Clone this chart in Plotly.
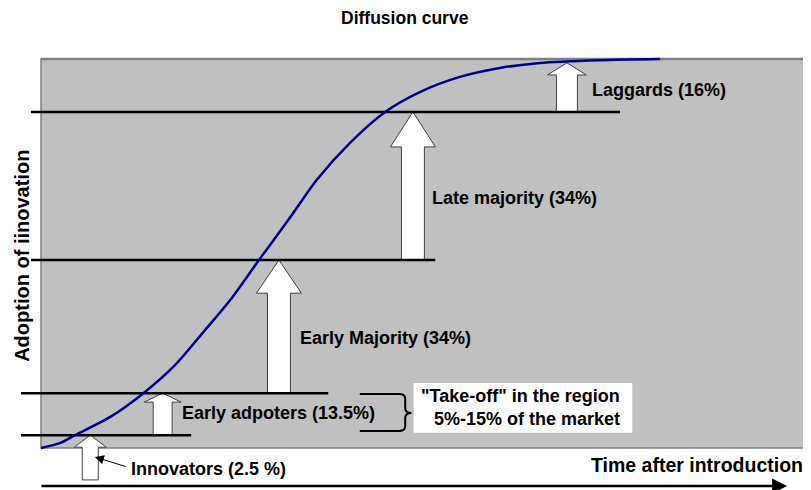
import plotly.graph_objects as go

# ---------------- data ----------------
segment_labels = ["Innovators (2.5 %)", "Early adpoters (13.5%)", "Early Majority (34%)",
                  "Late majority (34%)", "Laggards (16%)"]
segment_shares = [2.5, 13.5, 34, 34, 16]
# cumulative adoption thresholds as drawn on the schematic (adoption index 0-100)
level_values = [3.3, 14.1, 48.3, 86.4]
curve_top = 100.0

# S-shaped diffusion curve (time index 0-100, adoption index 0-100)
curve_time = [0, 2.5, 4.4, 9.0, 13.3, 17.4, 21.3, 24.6, 28.3, 32.3, 35.8, 40.1,
              44.7, 49.2, 54.4, 59.6, 64.8, 72.6, 80.4]
curve_adoption = [0, 1.3, 3.3, 8.0, 14.1, 21.3, 30.3, 38.1, 48.3, 59.1, 68.9, 78.4,
                  86.4, 91.5, 95.4, 97.7, 99.0, 99.7, 100.0]

# ---------------- styling / layout ----------------
FONT = "Arial, 'Liberation Sans', sans-serif"
# axis ranges chosen so the page (with its 8px body margin) lines up with the reference
X_RANGE = [-4.286, 101.04]
Y_RANGE = [-12.85, 113.11]

# horizontal extents of each threshold line (time index)
line_extents = [(-2.6, 19.5), (-2.6, 37.3), (-1.3, 51.2), (-1.3, 75.2)]

# block arrows: centre, shaft half-width, head half-width, head height
arrow_centres = [6.4, 15.8, 30.9, 48.3, 68.3]
arrow_shaft_hw = [1.04, 1.23, 1.49, 1.49, 1.36]
arrow_head_hw = [2.08, 2.40, 2.92, 2.92, 2.53]
arrow_head_h = [3.1, 2.3, 8.5, 9.0, 3.1]
arrow_bottoms = [-8.2] + level_values
arrow_tips = level_values + [curve_top - 1.0]

label_pos = [(11.4, -5.4), (18.05, 9.0), (33.4, 28.3), (50.5, 64.3), (71.3, 92.0)]

fig = go.Figure()

# grey plot area
fig.add_shape(type="rect", x0=0, x1=102, y0=0, y1=100, xref="x", yref="y",
              fillcolor="#C0C0C0", line=dict(color="#808080", width=1.5), layer="below")
fig.add_shape(type="line", x0=0, x1=102, y0=100, y1=100, xref="x", yref="y",
              line=dict(color="#808080", width=2.5), layer="below")

# block arrows
for cx, shw, hhw, hh, b, t in zip(arrow_centres, arrow_shaft_hw, arrow_head_hw,
                                   arrow_head_h, arrow_bottoms, arrow_tips):
    xs = [cx - shw, cx - shw, cx - hhw, cx, cx + hhw, cx + shw, cx + shw, cx - shw]
    ys = [b, t - hh, t - hh, t, t - hh, t - hh, b, b]
    fig.add_trace(go.Scatter(x=xs, y=ys, mode="lines", fill="toself",
                             fillcolor="white", line=dict(color="#404040", width=1),
                             hoverinfo="skip", showlegend=False))

# threshold lines
for (x0, x1), lv in zip(line_extents, level_values):
    fig.add_trace(go.Scatter(x=[x0, x1], y=[lv, lv], mode="lines",
                             line=dict(color="black", width=2.5),
                             hoverinfo="skip", showlegend=False))

# diffusion curve
fig.add_trace(go.Scatter(x=curve_time, y=curve_adoption, mode="lines",
                         line=dict(color="#000090", width=2.5, shape="spline", smoothing=0.8),
                         hoverinfo="skip", showlegend=False))

# brace for "take-off" region
brace = ("M 41.4,13.9 L 46.6,13.9 Q 47.3,13.9 47.3,12.6 L 47.3,10.3 "
         "Q 47.3,9.0 48.1,9.0 Q 47.3,9.0 47.3,7.7 L 47.3,5.7 "
         "Q 47.3,4.4 46.6,4.4 L 41.4,4.4")
fig.add_shape(type="path", path=brace, xref="x", yref="y",
              line=dict(color="black", width=2))

# white box behind take-off text
fig.add_shape(type="rect", x0=48.4, x1=76.8, y0=3.9, y1=16.7, xref="x", yref="y",
              fillcolor="white", line=dict(width=0))

LABEL_FONT = dict(family=FONT, size=18, color="black", weight="bold")

annotations = []
for txt, (lx, ly) in zip(segment_labels, label_pos):
    annotations.append(dict(x=lx, y=ly, xref="x", yref="y", text=txt, showarrow=False,
                            xanchor="left", yanchor="middle", font=LABEL_FONT))

annotations += [
    dict(x=75.4, y=13.4, xref="x", yref="y", text='"Take-off" in the region', showarrow=False,
         xanchor="right", yanchor="middle", font=LABEL_FONT),
    dict(x=75.4, y=7.5, xref="x", yref="y", text="5%-15% of the market", showarrow=False,
         xanchor="right", yanchor="middle", font=LABEL_FONT),
    dict(x=99.2, y=-4.4, xref="x", yref="y", text="Time after introduction", showarrow=False,
         xanchor="right", yanchor="middle",
         font=dict(family=FONT, size=19.5, color="black", weight="bold")),
    dict(x=-2.47, y=49.4, xref="x", yref="y", text="Adoption of iinovation", showarrow=False,
         textangle=-90, xanchor="center", yanchor="middle",
         font=dict(family=FONT, size=20, color="black", weight="bold")),
    dict(x=47.27, y=110.5, xref="x", yref="y", text="Diffusion curve", showarrow=False,
         xanchor="center", yanchor="middle",
         font=dict(family=FONT, size=17.5, color="black", weight="bold")),
    # time axis arrow
    dict(x=96.9, y=-9.77, ax=-0.13, ay=-9.77, xref="x", yref="y", axref="x", ayref="y",
         text="", showarrow=True, arrowhead=2, arrowsize=1.2, arrowwidth=2.5,
         arrowcolor="black", standoff=0, startstandoff=0),
    # pointer from innovators label
    dict(x=7.0, y=-2.3, ax=11.2, ay=-4.9, xref="x", yref="y", axref="x", ayref="y",
         text="", showarrow=True, arrowhead=2, arrowsize=1.8, arrowwidth=1,
         arrowcolor="black", standoff=0, startstandoff=0),
]

fig.update_layout(
    width=811, height=490,
    margin=dict(l=0, r=0, t=0, b=0),
    paper_bgcolor="white", plot_bgcolor="white",
    xaxis=dict(range=X_RANGE, visible=False, fixedrange=True),
    yaxis=dict(range=Y_RANGE, visible=False, fixedrange=True),
    annotations=annotations,
    showlegend=False,
)

fig.write_html("out.html")
